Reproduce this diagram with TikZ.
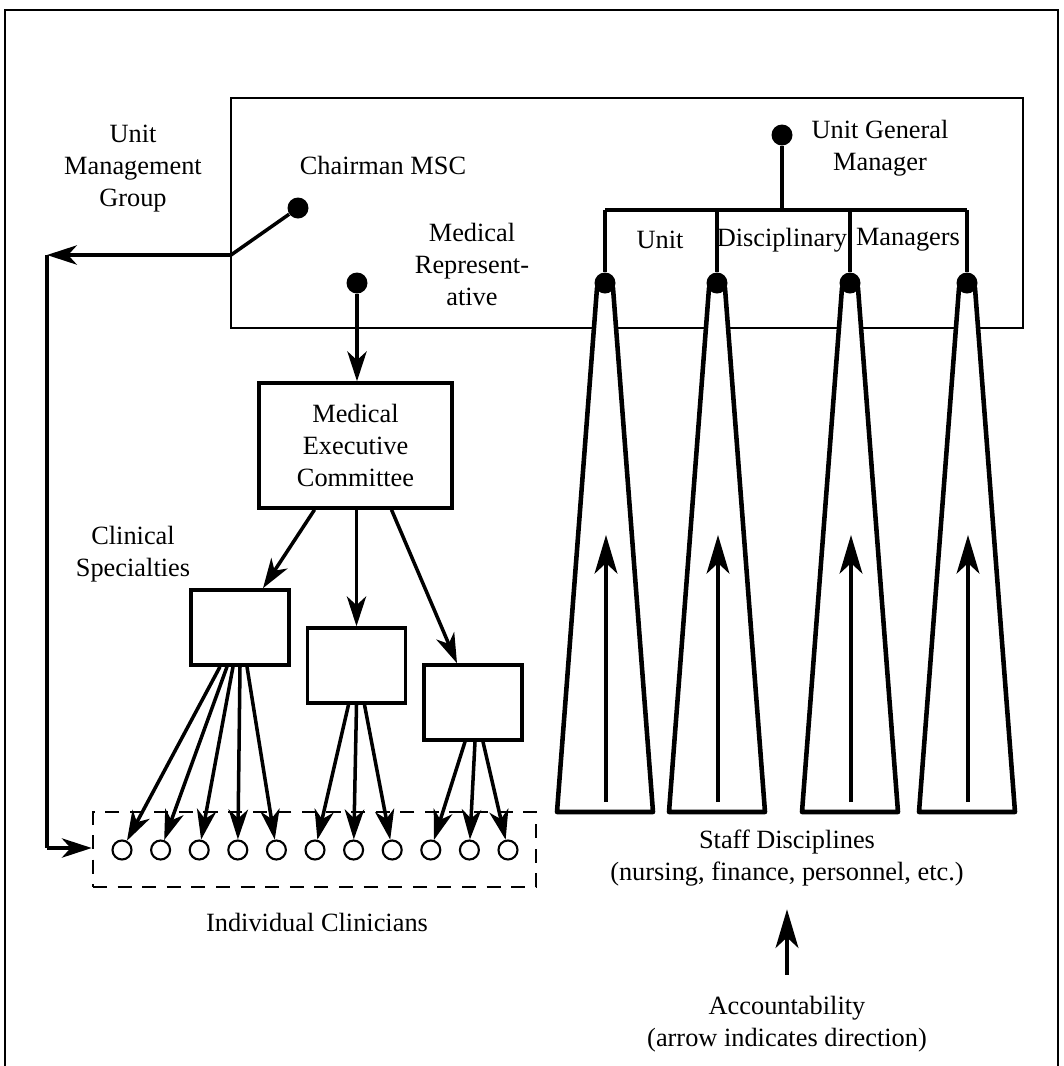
\documentclass[tikz,border=0pt]{standalone}
\usepackage{fontspec}
\setmainfont{Liberation Serif}
\usetikzlibrary{arrows.meta, calc, positioning}

\tikzset{
  lbl/.style={align=center, inner sep=0pt},
  dotnode/.style={circle, fill=black, inner sep=0pt, minimum size=0.42cm},
  clin/.style={circle, draw, line width=1.2pt, inner sep=0pt, minimum size=0.38cm},
  boxnode/.style={draw, line width=2pt, inner sep=0pt},
  wire/.style={line width=2pt},
  link/.style={line width=2pt, -{Stealth[length=17pt, width=11pt, inset=5pt]}},
  uplink/.style={line width=2pt, -{Stealth[length=22pt, width=13pt, inset=6pt]}},
  cone/.style={line width=2.6pt, line join=round},
}

\begin{document}
\begin{tikzpicture}[x=0.02cm, y=-0.02cm, font=\fontsize{15}{18.2}\selectfont]
\useasboundingbox (0,0) rectangle (1063,1066);
\draw[line width=1.4pt] (5,1066) -- (5,10) -- (1058,10) -- (1058,1066);

% unit management group
\node[draw, line width=1.3pt, minimum width=15.84cm, minimum height=4.6cm] (umg) at (627,213) {};
\node[lbl] (umgtext) at (133,169) {Unit\\Management\\Group};
\node[lbl] (chairtext) at (383,165) {Chairman MSC};
\node[dotnode] (chair) at (298,208) {};
\node[lbl] (medtext) at (472,264) {Medical\\Represent-\\ative};
\node[dotnode] (medrep) at (357,283) {};
\coordinate (branch) at (231,255);
\coordinate (turn1) at (47,255);
\coordinate (turn2) at (47,848);

% medical side
\node[boxnode, minimum width=3.86cm, minimum height=2.5cm, align=center] (mec) at (355.5,445.5) {Medical\\Executive\\Committee};
\node[lbl] (spectext) at (133,554) {Clinical\\Specialties};
\node[boxnode, minimum width=1.96cm, minimum height=1.5cm] (sp1) at (240,627.5) {};
\node[boxnode, minimum width=1.96cm, minimum height=1.5cm] (sp2) at (356.5,665.5) {};
\node[boxnode, minimum width=1.96cm, minimum height=1.5cm] (sp3) at (473,702.5) {};

\node[draw, line width=1.5pt, dash pattern=on 8pt off 6pt, minimum width=8.86cm, minimum height=1.5cm] (clinbox) at (314.5,849.5) {};
\foreach \i in {1,...,11}
  \node[clin] (c\i) at ({122+38.6*(\i-1)},850) {};
\node[lbl] (clintext) at (317,922) {Individual Clinicians};

\draw[wire] (chair) -- (branch);
\draw[link] (branch) -- (turn1);
\draw[wire] (turn1) -- (turn2);
\draw[link] (turn2) -- (turn2 -| clinbox.west);
\draw[link] (medrep) -- (medrep |- mec.north);
\draw[link] ($(mec.south)+(-41,0)$) -- ($(sp1.north)+(23,0)$);
\draw[link] (mec.south -| sp2.north) -- (sp2.north);
\draw[link] ($(mec.south)+(36,0)$) -- ($(sp3.north)+(-16,0)$);

\foreach \i/\s in {1/-20,2/-13,3/-7,4/0,5/7}
  \draw[link] ($(sp1.south)+(\s,0)$) -- (c\i);
\foreach \i/\s in {6/-8,7/0,8/8}
  \draw[link] ($(sp2.south)+(\s,0)$) -- (c\i);
\foreach \i/\s in {9/-8,10/2,11/10}
  \draw[link] ($(sp3.south)+(\s,0)$) -- (c\i);

% staff disciplines
\node[lbl] (ugmtext) at (880,148) {Unit General\\Manager};
\node[dotnode] (ugm) at (782,135) {};
\coordinate (bar) at (782,210);
\node[lbl] (unittext) at (660,240) {Unit};
\node[lbl] (disctext) at (782,240) {Disciplinary};
\node[lbl] (mgrtext) at (908,240) {Managers};

\foreach \n/\x in {1/605,2/717,3/850,4/967} {
  \draw[cone, fill=white] (\x-48,812) -- (\x-8,288) -- (\x+8,288) -- (\x+48,812) -- cycle;
  \node[dotnode] (d\n) at (\x,283) {};
  \coordinate (base\n) at (\x+1,802);
  \coordinate (tip\n) at (\x+1,535);
  \draw[uplink] (base\n) -- (tip\n);
}
\draw[wire] (ugm) -- (bar);
\draw[wire] (d1 |- bar) -- (d4 |- bar);
\foreach \n in {1,...,4}
  \draw[wire] (d\n |- bar) -- (d\n);

\node[lbl] (staff) at (787,858) {Staff Disciplines\\(nursing, finance, personnel, etc.)};
\node[lbl] (acc) at (787,1024) {Accountability\\(arrow indicates direction)};
\draw[uplink, shorten <=12pt, shorten >=13pt] (acc.north) -- (staff.south);

\end{tikzpicture}
\end{document}
